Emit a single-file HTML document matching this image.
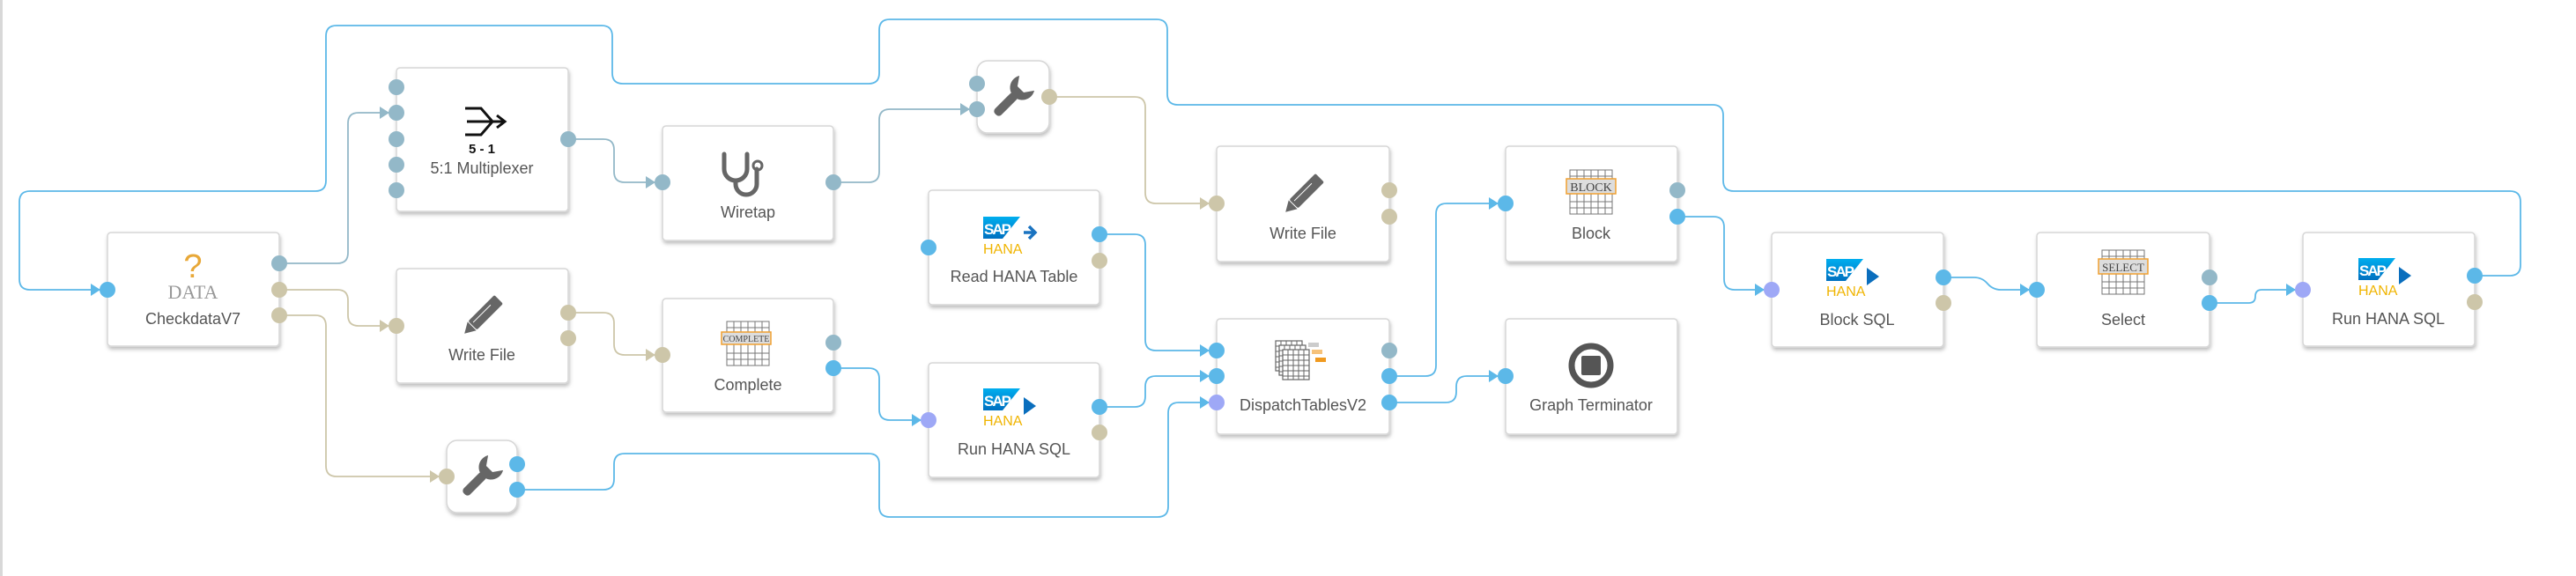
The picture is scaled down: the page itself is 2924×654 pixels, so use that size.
<!DOCTYPE html>
<html><head><meta charset="utf-8">
<style>
html,body{margin:0;padding:0;background:#fff;}
body{width:2924px;height:654px;overflow:hidden;position:relative;font-family:"Liberation Sans",sans-serif;}
svg{position:absolute;left:0;top:0;}
.lbl{font-family:"Liberation Sans",sans-serif;font-size:18px;fill:#555;text-anchor:middle;}
</style></head>
<body>
<svg id="s" width="2924" height="654" viewBox="0 0 2924 654" xmlns="http://www.w3.org/2000/svg">
<defs>
<filter id="sh" x="-10%" y="-10%" width="130%" height="130%">
<feDropShadow dx="1" dy="3" stdDeviation="2" flood-color="#000" flood-opacity="0.25"/>
</filter>
<linearGradient id="sapg" x1="0" y1="0" x2="0" y2="1"><stop offset="0" stop-color="#00aeef"/><stop offset="1" stop-color="#0070c0"/></linearGradient>
<g id="sap">
<polygon points="0,0 42,0 22,25 0,25" fill="url(#sapg)"/>
<text x="1" y="20" font-family="Liberation Sans" font-weight="bold" font-size="17" fill="#fff" letter-spacing="-2">SAP</text>
<text x="0" y="42" font-family="Liberation Sans" font-size="16" fill="#f0b400">HANA</text>
</g>
<g id="tbl">
<rect x="0" y="0" width="48" height="50" fill="#fff" stroke="#777" stroke-width="1"/>
<path d="M0 7H48M0 14H48M0 36H48M0 43H48M8 0V50M16 0V50M24 0V50M32 0V50M40 0V50" stroke="#777" stroke-width="1" fill="none"/>
</g>
<g id="sheet">
<rect x="0" y="0" width="30" height="34" fill="#fff" stroke="#666" stroke-width="1.2"/>
<path d="M0 6H30M0 12H30M0 18H30M0 24H30M0 30H30M6 0V34M12 0V34M18 0V34M24 0V34" stroke="#666" stroke-width="1" fill="none"/>
</g>
</defs>
<rect x="0" y="0" width="3" height="654" fill="#d8d8d8"/>
<g id="conn" fill="none" stroke-width="1.8"></g>

<g filter="url(#sh)" fill="#fff" stroke="#d6d6d6" stroke-width="1.5">
<rect x="122" y="264" width="195" height="129" rx="4"/>
<rect x="450" y="77" width="195" height="163" rx="4"/>
<rect x="752" y="143" width="194" height="130" rx="4"/>
<rect x="450" y="305" width="195" height="130" rx="4"/>
<rect x="752" y="339" width="194" height="129" rx="4"/>
<rect x="507" y="500" width="80" height="82" rx="12"/>
<rect x="1109" y="69" width="82" height="82" rx="12"/>
<rect x="1054" y="216" width="194" height="130" rx="4"/>
<rect x="1054" y="412" width="194" height="130" rx="4"/>
<rect x="1381" y="166" width="196" height="131" rx="4"/>
<rect x="1381" y="362" width="196" height="131" rx="4"/>
<rect x="1709" y="166" width="195" height="131" rx="4"/>
<rect x="1709" y="362" width="195" height="131" rx="4"/>
<rect x="2011" y="264" width="195" height="130" rx="4"/>
<rect x="2312" y="264" width="196" height="130" rx="4"/>
<rect x="2614" y="264" width="195" height="129" rx="4"/>
</g>

<text x="219" y="315" text-anchor="middle" font-family="Liberation Sans" font-size="38" fill="#e8a838">?</text>
<text x="219" y="339" text-anchor="middle" font-family="Liberation Serif" font-size="22" fill="#999">DATA</text>
<g stroke="#111" stroke-width="3" fill="none"><path d="M528 123 L546 123 L559 138 L546 153 L528 153 M530 138 L572 138"/><path d="M564 131 L573 138 L564 145"/></g>
<text x="547" y="174" text-anchor="middle" font-family="Liberation Sans" font-weight="bold" font-size="15" fill="#111">5 - 1</text>
<g stroke="#666" stroke-width="5" fill="none" stroke-linecap="round"><path d="M822 175 V192 a13 13 0 0 0 26 0 V175"/><path d="M835 205 v4 a12 12 0 0 0 24 0 V192"/></g>
<circle cx="860" cy="188" r="5" fill="none" stroke="#666" stroke-width="3"/>
<g transform="translate(547,359) rotate(45)"><rect x="-7" y="-27" width="14" height="42" rx="2" fill="#666"/><polygon points="-7,16 7,16 0,28" fill="#666"/><line x1="-2" y1="-16" x2="-2" y2="12" stroke="#fff" stroke-width="1"/></g>
<g transform="translate(1479,221) rotate(45)"><rect x="-7" y="-27" width="14" height="42" rx="2" fill="#666"/><polygon points="-7,16 7,16 0,28" fill="#666"/><line x1="-2" y1="-16" x2="-2" y2="12" stroke="#fff" stroke-width="1"/></g>
<g transform="translate(547,541) rotate(45)"><rect x="-5" y="-4" width="10" height="32" rx="4" fill="#666"/><path d="M-12 -22 a14 14 0 1 0 24 0 L5 -12 L-5 -12 Z" fill="#666"/></g>
<g transform="translate(1150,110) rotate(45)"><rect x="-5" y="-4" width="10" height="32" rx="4" fill="#666"/><path d="M-12 -22 a14 14 0 1 0 24 0 L5 -12 L-5 -12 Z" fill="#666"/></g>
<use href="#tbl" x="825" y="365"/>
<rect x="819" y="377" width="56" height="14" fill="#ddd" stroke="#f0a030" stroke-width="1.5"/>
<text x="847" y="388" text-anchor="middle" font-family="Liberation Serif" font-size="10" fill="#444">COMPLETE</text>
<use href="#tbl" x="1782" y="193"/>
<rect x="1778" y="203" width="56" height="17" fill="#ddd" stroke="#f0a030" stroke-width="1.5"/>
<text x="1806" y="217" text-anchor="middle" font-family="Liberation Serif" font-size="14" fill="#444">BLOCK</text>
<use href="#tbl" x="2386" y="284"/>
<rect x="2382" y="294" width="56" height="17" fill="#ddd" stroke="#f0a030" stroke-width="1.5"/>
<text x="2410" y="308" text-anchor="middle" font-family="Liberation Serif" font-size="13" fill="#444">SELECT</text>
<use href="#sap" x="1116" y="246"/><path d="M1162 264 H1175 M1168 257 L1175 264 L1168 271" stroke="#1a73c0" stroke-width="3.5" fill="none"/>
<use href="#sap" x="1116" y="441"/><polygon points="1162,451 1176,461 1162,471" fill="#0a6ebd"/>
<use href="#sap" x="2073" y="294"/><polygon points="2119,304 2133,314 2119,324" fill="#0a6ebd"/>
<use href="#sap" x="2677" y="293"/><polygon points="2723,303 2737,313 2723,323" fill="#0a6ebd"/>
<use href="#sheet" x="1448" y="387"/>
<use href="#sheet" x="1452" y="392"/>
<use href="#sheet" x="1456" y="397"/>
<rect x="1485" y="389" width="12" height="5" fill="#ccc"/><rect x="1489" y="397" width="12" height="5" fill="#f6c27a"/><rect x="1493" y="406" width="12" height="5" fill="#f09a20"/>
<circle cx="1806" cy="415" r="22" fill="none" stroke="#555" stroke-width="7"/>
<rect x="1795" y="404" width="22" height="22" rx="2" fill="#555"/>

<text class="lbl" x="219" y="368">CheckdataV7</text>
<text class="lbl" x="547" y="197">5:1 Multiplexer</text>
<text class="lbl" x="849" y="247">Wiretap</text>
<text class="lbl" x="547" y="409">Write File</text>
<text class="lbl" x="849" y="443">Complete</text>
<text class="lbl" x="1151" y="320">Read HANA Table</text>
<text class="lbl" x="1151" y="516">Run HANA SQL</text>
<text class="lbl" x="1479" y="271">Write File</text>
<text class="lbl" x="1479" y="466">DispatchTablesV2</text>
<text class="lbl" x="1806" y="271">Block</text>
<text class="lbl" x="1806" y="466">Graph Terminator</text>
<text class="lbl" x="2108" y="369">Block SQL</text>
<text class="lbl" x="2410" y="369">Select</text>
<text class="lbl" x="2711" y="368">Run HANA SQL</text>

<g id="ports"></g>
</svg>
<script>
var B='#5cb8e8',G='#93b8c8',T='#cdc6a9',P='#9ea8f6';
var conns=[
[B,[[2809,313],[2861,313],[2861,217],[1956,217],[1956,119],[1325,119],[1325,22],[998,22],[998,95],[695,95],[695,29],[370,29],[370,217],[22,217],[22,329],[113,329]]],
[G,[[317,299],[395,299],[395,128],[441,128]]],
[T,[[317,329],[395,329],[395,370],[441,370]]],
[T,[[317,358],[370,358],[370,541],[498,541]]],
[G,[[645,158],[697,158],[697,207],[743,207]]],
[T,[[645,355],[697,355],[697,403],[743,403]]],
[G,[[946,207],[998,207],[998,124],[1100,124]]],
[B,[[946,418],[998,418],[998,477],[1045,477]]],
[B,[[587,556],[697,556],[697,515],[998,515],[998,587],[1326,587],[1326,457],[1372,457]]],
[T,[[1190,110],[1300,110],[1300,231],[1372,231]]],
[B,[[1248,266],[1300,266],[1300,398],[1372,398]]],
[B,[[1248,462],[1300,462],[1300,427],[1372,427]]],
[B,[[1577,427],[1630,427],[1630,231],[1700,231]]],
[B,[[1577,457],[1653,457],[1653,427],[1700,427]]],
[B,[[1904,246],[1957,246],[1957,329],[2002,329]]],
[B,[[2206,315],[2250,315],[2262,329],[2303,329]]],
[B,[[2508,344],[2560,344],[2560,329],[2605,329]]]
];
var ns='http://www.w3.org/2000/svg',cg=document.getElementById('conn');
function path(pts){var d='M'+pts[0][0]+' '+pts[0][1];
for(var i=1;i<pts.length-1;i++){var a=pts[i-1],b=pts[i],c=pts[i+1];
var l1=Math.hypot(b[0]-a[0],b[1]-a[1]),l2=Math.hypot(c[0]-b[0],c[1]-b[1]);var r=Math.min(12,l1/2,l2/2);
var p1=[b[0]-(b[0]-a[0])/l1*r,b[1]-(b[1]-a[1])/l1*r],p2=[b[0]+(c[0]-b[0])/l2*r,b[1]+(c[1]-b[1])/l2*r];
d+=' L'+p1[0]+' '+p1[1]+' Q'+b[0]+' '+b[1]+' '+p2[0]+' '+p2[1];}
var e=pts[pts.length-1];d+=' L'+e[0]+' '+e[1];return d;}
conns.forEach(function(c){var p=document.createElementNS(ns,'path');p.setAttribute('d',path(c[1]));p.setAttribute('stroke',c[0]);cg.appendChild(p);
var e=c[1][c[1].length-1];var t=document.createElementNS(ns,'polygon');t.setAttribute('points',(e[0]-10)+','+(e[1]-7)+' '+(e[0]+1)+','+e[1]+' '+(e[0]-10)+','+(e[1]+7));t.setAttribute('fill',c[0]);t.setAttribute('stroke','none');cg.appendChild(t);});
var ports=[[122,329,B],[317,299,G],[317,329,T],[317,358,T],
[450,99,G],[450,128,G],[450,158,G],[450,187,G],[450,216,G],[645,158,G],
[752,207,G],[946,207,G],[450,370,T],[645,355,T],[645,384,T],
[752,403,T],[946,389,G],[946,418,B],[507,541,T],[587,527,B],[587,556,B],
[1109,95,G],[1109,124,G],[1191,110,T],[1054,281,B],[1248,266,B],[1248,296,T],
[1054,477,P],[1248,462,B],[1248,491,T],[1381,231,T],[1577,216,T],[1577,246,T],
[1381,398,B],[1381,427,B],[1381,457,P],[1577,398,G],[1577,427,B],[1577,457,B],
[1709,231,B],[1904,216,G],[1904,246,B],[1709,427,B],
[2011,329,P],[2206,315,B],[2206,344,T],[2312,329,B],[2508,315,G],[2508,344,B],
[2614,329,P],[2809,313,B],[2809,343,T]];
var pg=document.getElementById('ports');
ports.forEach(function(p){var c=document.createElementNS(ns,'ellipse');c.setAttribute('cx',p[0]);c.setAttribute('cy',p[1]);c.setAttribute('rx',9);c.setAttribute('ry',9);c.setAttribute('fill',p[2]);pg.appendChild(c);});
</script>
</body></html>
